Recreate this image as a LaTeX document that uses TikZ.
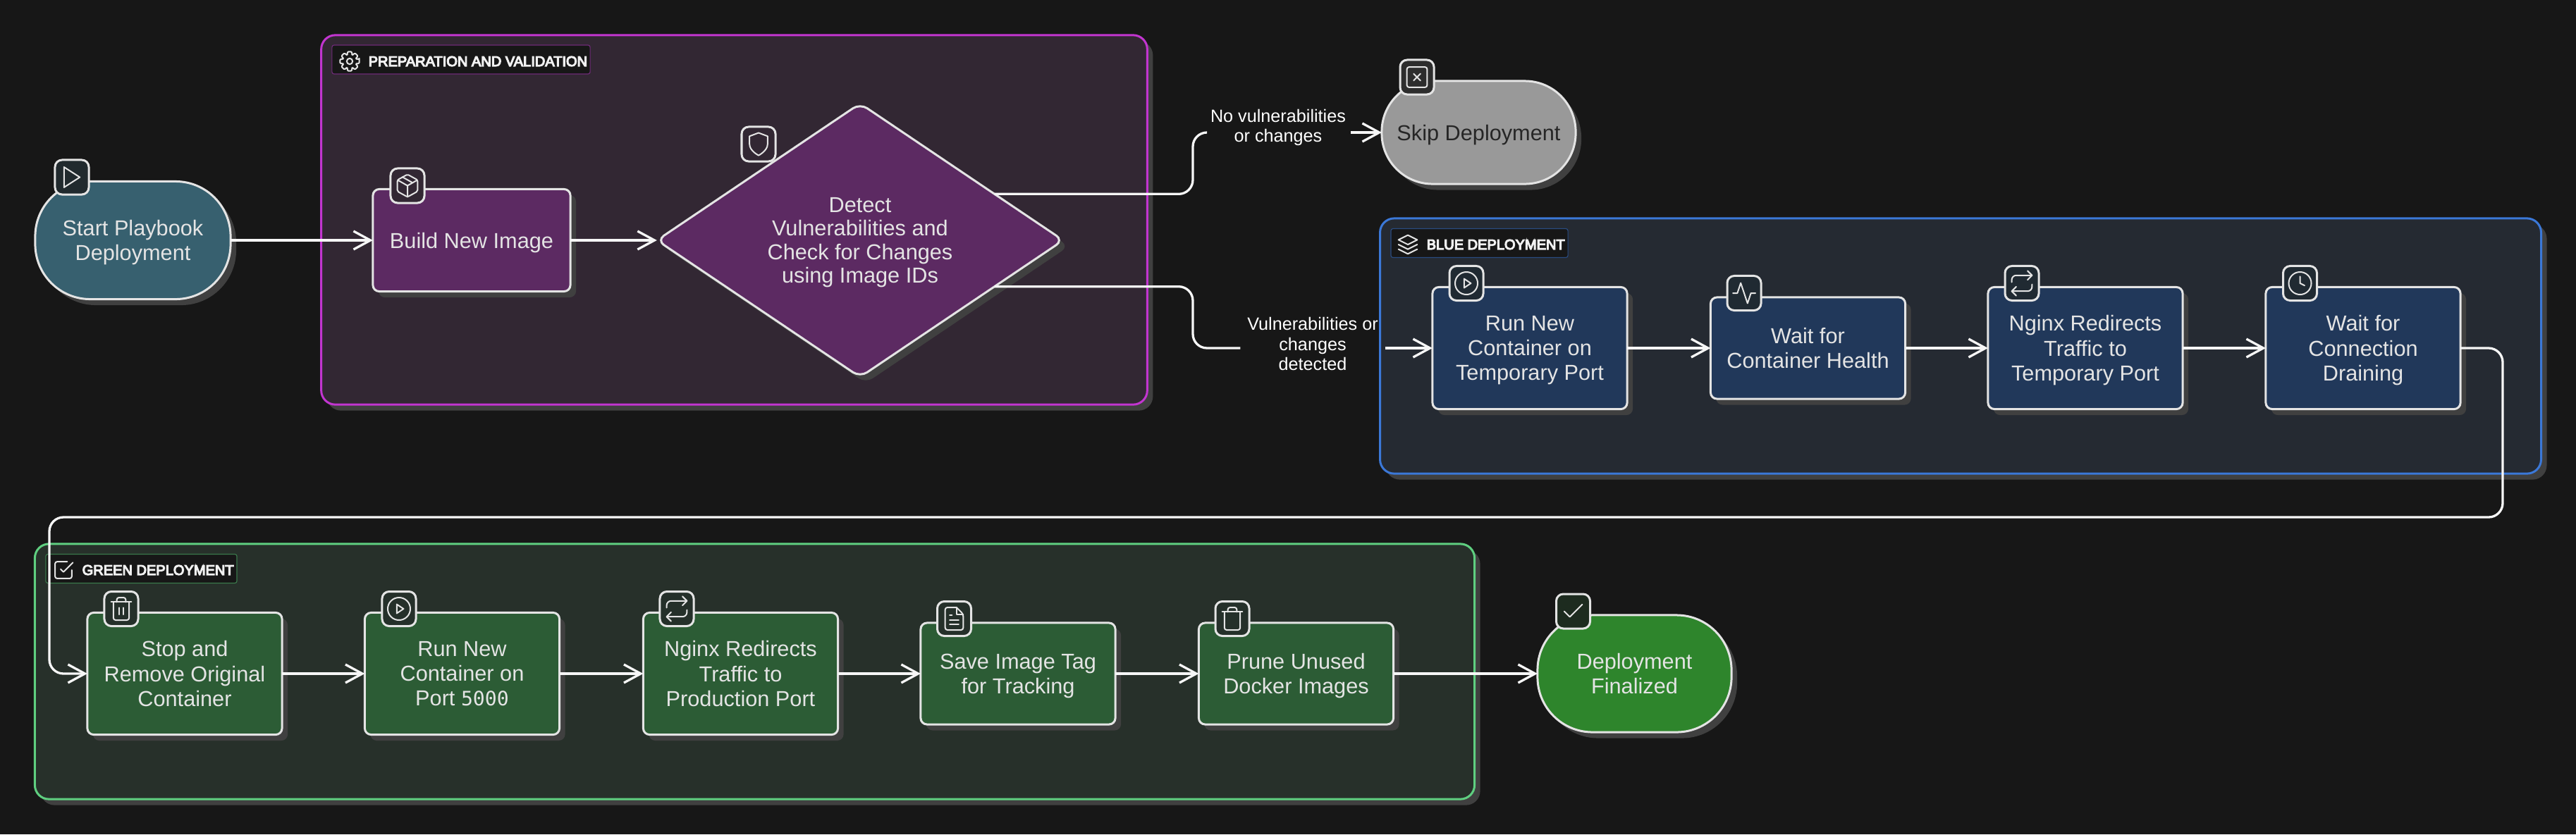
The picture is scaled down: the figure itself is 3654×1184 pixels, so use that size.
\documentclass[tikz,border=0pt]{standalone}
\usepackage{fontspec}
\setmainfont{Liberation Sans}
\newfontfamily\portfont{DejaVu Sans Mono}
\newfontfamily\tagfont[FakeBold=6]{Liberation Sans}
\usetikzlibrary{arrows.meta,shadows,shapes.geometric}
\definecolor{pagebg}{HTML}{171717}
\definecolor{castgray}{HTML}{404040}
\definecolor{inkwhite}{HTML}{E4E4E4}
\definecolor{flowwhite}{HTML}{F6F6F6}
\definecolor{prepfill}{HTML}{322733}
\definecolor{prepline}{HTML}{C235D0}
\definecolor{preptag}{HTML}{6F2B78}
\definecolor{prepnode}{HTML}{5C2A62}
\definecolor{bluefill}{HTML}{252A32}
\definecolor{blueline}{HTML}{3B78D8}
\definecolor{bluetag}{HTML}{2A4B80}
\definecolor{bluenode}{HTML}{21385A}
\definecolor{blueglyph}{HTML}{202A32}
\definecolor{greenfill}{HTML}{27302A}
\definecolor{greenline}{HTML}{5FCF80}
\definecolor{greentag}{HTML}{3B7A4C}
\definecolor{greennode}{HTML}{2C5C35}
\definecolor{greenglyph}{HTML}{25302A}
\definecolor{startnode}{HTML}{37606F}
\definecolor{startglyph}{HTML}{212A2E}
\definecolor{skipnode}{HTML}{999999}
\definecolor{skipglyph}{HTML}{2D2D2D}
\definecolor{finalnode}{HTML}{2E852C}
\definecolor{finalglyph}{HTML}{1D2B1F}
\tikzset{
  cast/.style={drop shadow={opacity=1,fill=castgray,shadow xshift=.08cm,shadow yshift=-.085cm}},
  groupbox/.style={rectangle,rounded corners=.2cm,line width=.03cm,outer sep=0,cast},
  grouptag/.style={rectangle,rounded corners=.03cm,fill=pagebg,line width=.012cm,minimum height=.41cm,inner sep=0},
  tagtext/.style={anchor=west,inner sep=0,text=inkwhite!50!white,font=\tagfont\fontsize{5.7}{7}\selectfont},
  stepbox/.style={rectangle,rounded corners=.09cm,draw=inkwhite,line width=.03cm,outer sep=0,inner sep=0,text depth=0pt,
    minimum width=2.76cm,align=center,text=inkwhite,font=\fontsize{8.73}{10}\selectfont,cast},
  tallbox/.style={stepbox,minimum height=1.73cm},
  lowbox/.style={stepbox,minimum height=1.44cm},
  endbox/.style={stepbox,rounded corners=.78cm},
  checkbox/.style={diamond,shape aspect=1.48,rounded corners=.12cm,draw=inkwhite,line width=.03cm,outer sep=0,inner sep=0,
    minimum width=5.76cm,minimum height=3.88cm,fill=prepnode,align=center,text=inkwhite,text depth=0pt,font=\fontsize{8.73}{9.5}\selectfont,cast},
  iconbox/.style={rectangle,rounded corners=.1cm,draw=inkwhite,line width=.03cm,minimum width=.48cm,minimum height=.49cm,inner sep=0},
  flow/.style={draw=flowwhite,line width=.033cm,-{Straight Barb[length=.24cm,width=.26cm]}},
  flowbend/.style={draw=flowwhite,line width=.033cm,rounded corners=.2cm},
  edgelabel/.style={inner sep=0,minimum width=2.04cm,align=center,text=white,font=\fontsize{7.17}{8}\selectfont},
  glyph/.style={x=.016cm,y=-.016cm,shift={(-12,-12)},draw=inkwhite,line width=.02cm,line cap=round,line join=round},
  glyphplay/.pic={\draw[glyph] (5,3) -- (19,12) -- (5,21) -- cycle;},
  glyphring/.pic={\draw[glyph] (12,12) circle[radius=.16cm] (10,8) -- (16,12) -- (10,16) -- cycle;},
  glyphcrate/.pic={\draw[glyph,rounded corners=.02cm] (12,2) -- (21,7) -- (21,17) -- (12,22) -- (3,17) -- (3,7) -- cycle;
    \draw[glyph] (3.3,7) -- (12,12) -- (20.7,7) (12,22) -- (12,12) (7.5,4.3) -- (16.5,9.4);},
  glyphshield/.pic={\draw[glyph] (12,22) .. controls (12,22) and (20,18) .. (20,12) -- (20,5) -- (12,2) -- (4,5) -- (4,12) .. controls (4,18) and (12,22) .. (12,22) -- cycle;},
  glyphcross/.pic={\draw[glyph,rounded corners=.032cm] (3,3) rectangle (21,21);
    \draw[glyph] (9,9) -- (15,15) (15,9) -- (9,15);},
  glyphlayers/.pic={\draw[glyph] (12,2) -- (2,7) -- (12,12) -- (22,7) -- cycle (2,12) -- (12,17) -- (22,12) (2,17) -- (12,22) -- (22,17);},
  glyphpulse/.pic={\draw[glyph] (22,12) -- (18,12) -- (15,21) -- (9,3) -- (6,12) -- (2,12);},
  glyphrepeat/.pic={\draw[glyph] (17,1) -- (21,5) -- (17,9) (7,23) -- (3,19) -- (7,15);
    \draw[glyph,rounded corners=.064cm] (3,11) -- (3,5) -- (21,5) (21,13) -- (21,19) -- (3,19);},
  glyphclock/.pic={\draw[glyph] (12,12) circle[radius=.16cm] (12,6) -- (12,12) -- (16,14);},
  glyphtrash/.pic={\draw[glyph] (3,6) -- (21,6);
    \draw[glyph,rounded corners=.032cm] (5,6) -- (5,22) -- (19,22) -- (19,6) (8,6) -- (8,2) -- (16,2) -- (16,6);},
  glyphtrashbars/.pic={\draw[glyph] (10,11) -- (10,17) (14,11) -- (14,17);},
  glyphfile/.pic={\draw[glyph,rounded corners=.032cm] (14,2) -- (4,2) -- (4,22) -- (20,22) -- (20,8) -- (14,2);
    \draw[glyph] (14,2) -- (14,8) -- (20,8) (16,13) -- (8,13) (16,17) -- (8,17) (10,9) -- (8,9);},
  glyphcheck/.pic={\draw[glyph] (20,6) -- (9,17) -- (4,12);},
  glyphtick/.pic={\draw[glyph] (9,11) -- (12,14) -- (22,4);
    \draw[glyph,rounded corners=.032cm] (21,12) -- (21,21) -- (3,21) -- (3,3) -- (16,3);},
  glyphgear/.pic={\draw[glyph,shift={(12,12)},rounded corners=.012cm] (-12:10.5)
      \foreach \a in {0,45,...,315} {-- (\a-12:10.5) -- (\a+12:10.5) -- (\a+20:7.6) -- (\a+25:7.6)} -- cycle;
    \draw[glyph,shift={(12,12)}] (0,0) circle[radius=.05cm];},
}
\begin{document}
\begin{tikzpicture}[x=.01cm,y=-.01cm]
  \fill[pagebg] (0,0) rectangle (3654,1184);

  \node[groupbox,fill=prepfill,draw=prepline,minimum width=11.71cm,minimum height=5.24cm] (prepGroup) at (1041.5,312) {};
  \node[groupbox,fill=bluefill,draw=blueline,minimum width=16.46cm,minimum height=3.62cm] (blueGroup) at (2781,491) {};
  \node[groupbox,fill=greenfill,draw=greenline,minimum width=20.41cm,minimum height=3.62cm] (greenGroup) at (1070.5,953) {};

  \node[grouptag,draw=preptag,minimum width=3.66cm] (prepTag) at (654,84.5) {};
  \node[tagtext] (prepTagText) at (522,87) {PREPARATION AND VALIDATION};
  \node[grouptag,draw=bluetag,minimum width=2.51cm] (blueTag) at (2098.5,345) {};
  \node[tagtext] (blueTagText) at (2023,347) {BLUE DEPLOYMENT};
  \node[grouptag,draw=greentag,minimum width=2.71cm] (greenTag) at (200.5,807) {};
  \node[tagtext] (greenTagText) at (116,809) {GREEN DEPLOYMENT};
  \pic[scale=.83] at (496,87) {glyphgear};
  \pic[scale=.83] at (1997,347) {glyphlayers};
  \pic[scale=.83] at (90,809) {glyphtick};

  \node[endbox,fill=startnode,minimum width=2.77cm,minimum height=1.67cm] (start) at (188.5,341) {Start Playbook\\Deployment};
  \node[stepbox,fill=prepnode,minimum width=2.8cm,minimum height=1.45cm] (build) at (669,341) {Build New Image};
  \node[checkbox] (check) at (1220,341) {Detect\\Vulnerabilities and\\Check for Changes\\using Image IDs};
  \node[endbox,fill=skipnode,text=black!85,minimum width=2.75cm,minimum height=1.46cm,rounded corners=.72cm] (skip) at (2097.5,188) {Skip Deployment};

  \node[tallbox,fill=bluenode] (run) at (2170,494) {Run New\\Container on\\Temporary Port};
  \node[lowbox,fill=bluenode] (health) at (2564.5,494) {Wait for\\Container Health};
  \node[tallbox,fill=bluenode] (nginx) at (2958,494) {Nginx Redirects\\Traffic to\\Temporary Port};
  \node[tallbox,fill=bluenode] (drain) at (3352,494) {Wait for\\Connection\\Draining};

  \node[tallbox,fill=greennode] (stop) at (262,956) {Stop and\\Remove Original\\Container};
  \node[tallbox,fill=greennode] (port) at (655.5,956) {Run New\\Container on\\Port {\portfont\fontsize{8}{10}\selectfont 5000}};
  \node[tallbox,fill=greennode] (redirect) at (1050.5,956) {Nginx Redirects\\Traffic to\\Production Port};
  \node[lowbox,fill=greennode] (save) at (1444,956) {Save Image Tag\\for Tracking};
  \node[lowbox,fill=greennode] (prune) at (1838.5,956) {Prune Unused\\Docker Images};
  \node[endbox,fill=finalnode,minimum width=2.75cm,minimum height=1.66cm] (final) at (2318.5,956) {Deployment\\Finalized};

  \node[edgelabel] (noLabel) at (1813,181) {No vulnerabilities\\or changes};
  \node[edgelabel] (yesLabel) at (1862,488) {Vulnerabilities or\\changes\\detected};
  \coordinate (noBend) at (1692,188);
  \coordinate (yesBend) at (1692,494);
  \coordinate (backRight) at (3550,734);
  \coordinate (backLeft) at (70,734);

  \draw[flow] (start) -- (build);
  \draw[flow] (build) -- (check);
  \draw[flowbend] (check.19) -| (noBend) -- (noLabel.west |- skip.west);
  \draw[flow] (noLabel.east |- skip.west) -- (skip.west);
  \draw[flowbend] (check.-19) -| (yesBend) -- (yesLabel.west |- run.west);
  \draw[flow] (yesLabel.east |- run.west) -- (run.west);
  \draw[flow] (run) -- (health);
  \draw[flow] (health) -- (nginx);
  \draw[flow] (nginx) -- (drain);
  \draw[flow,rounded corners=.2cm] (drain.east) -| (backRight) -- (backLeft) |- (stop.west);
  \draw[flow] (stop) -- (port);
  \draw[flow] (port) -- (redirect);
  \draw[flow] (redirect) -- (save);
  \draw[flow] (save) -- (prune);
  \draw[flow] (prune) -- (final);

  \node[iconbox,fill=startglyph] (startIcon) at (102,251.5) {};
  \pic at (startIcon) {glyphplay};
  \node[iconbox,fill=prepfill] (buildIcon) at (578,263.5) {};
  \pic at (buildIcon) {glyphcrate};
  \node[iconbox,fill=prepfill] (checkIcon) at (1076,204.5) {};
  \pic at (checkIcon) {glyphshield};
  \node[iconbox,fill=skipglyph] (skipIcon) at (2010,109.5) {};
  \pic at (skipIcon) {glyphcross};
  \node[iconbox,fill=blueglyph] (runIcon) at (2080,402) {};
  \pic at (runIcon) {glyphring};
  \node[iconbox,fill=blueglyph] (healthIcon) at (2474,416) {};
  \pic at (healthIcon) {glyphpulse};
  \node[iconbox,fill=blueglyph] (nginxIcon) at (2868,402) {};
  \pic at (nginxIcon) {glyphrepeat};
  \node[iconbox,fill=blueglyph] (drainIcon) at (3262.5,402) {};
  \pic at (drainIcon) {glyphclock};
  \node[iconbox,fill=greenglyph] (stopIcon) at (172,864) {};
  \pic at (stopIcon) {glyphtrash};
  \pic at (stopIcon) {glyphtrashbars};
  \node[iconbox,fill=greenglyph] (portIcon) at (566,864) {};
  \pic at (portIcon) {glyphring};
  \node[iconbox,fill=greenglyph] (redirectIcon) at (960,864) {};
  \pic at (redirectIcon) {glyphrepeat};
  \node[iconbox,fill=greenglyph] (saveIcon) at (1353.5,878) {};
  \pic at (saveIcon) {glyphfile};
  \node[iconbox,fill=greenglyph] (pruneIcon) at (1748,878) {};
  \pic at (pruneIcon) {glyphtrash};
  \node[iconbox,fill=finalglyph] (finalIcon) at (2231.5,867.5) {};
  \pic at (finalIcon) {glyphcheck};
\end{tikzpicture}
\end{document}
